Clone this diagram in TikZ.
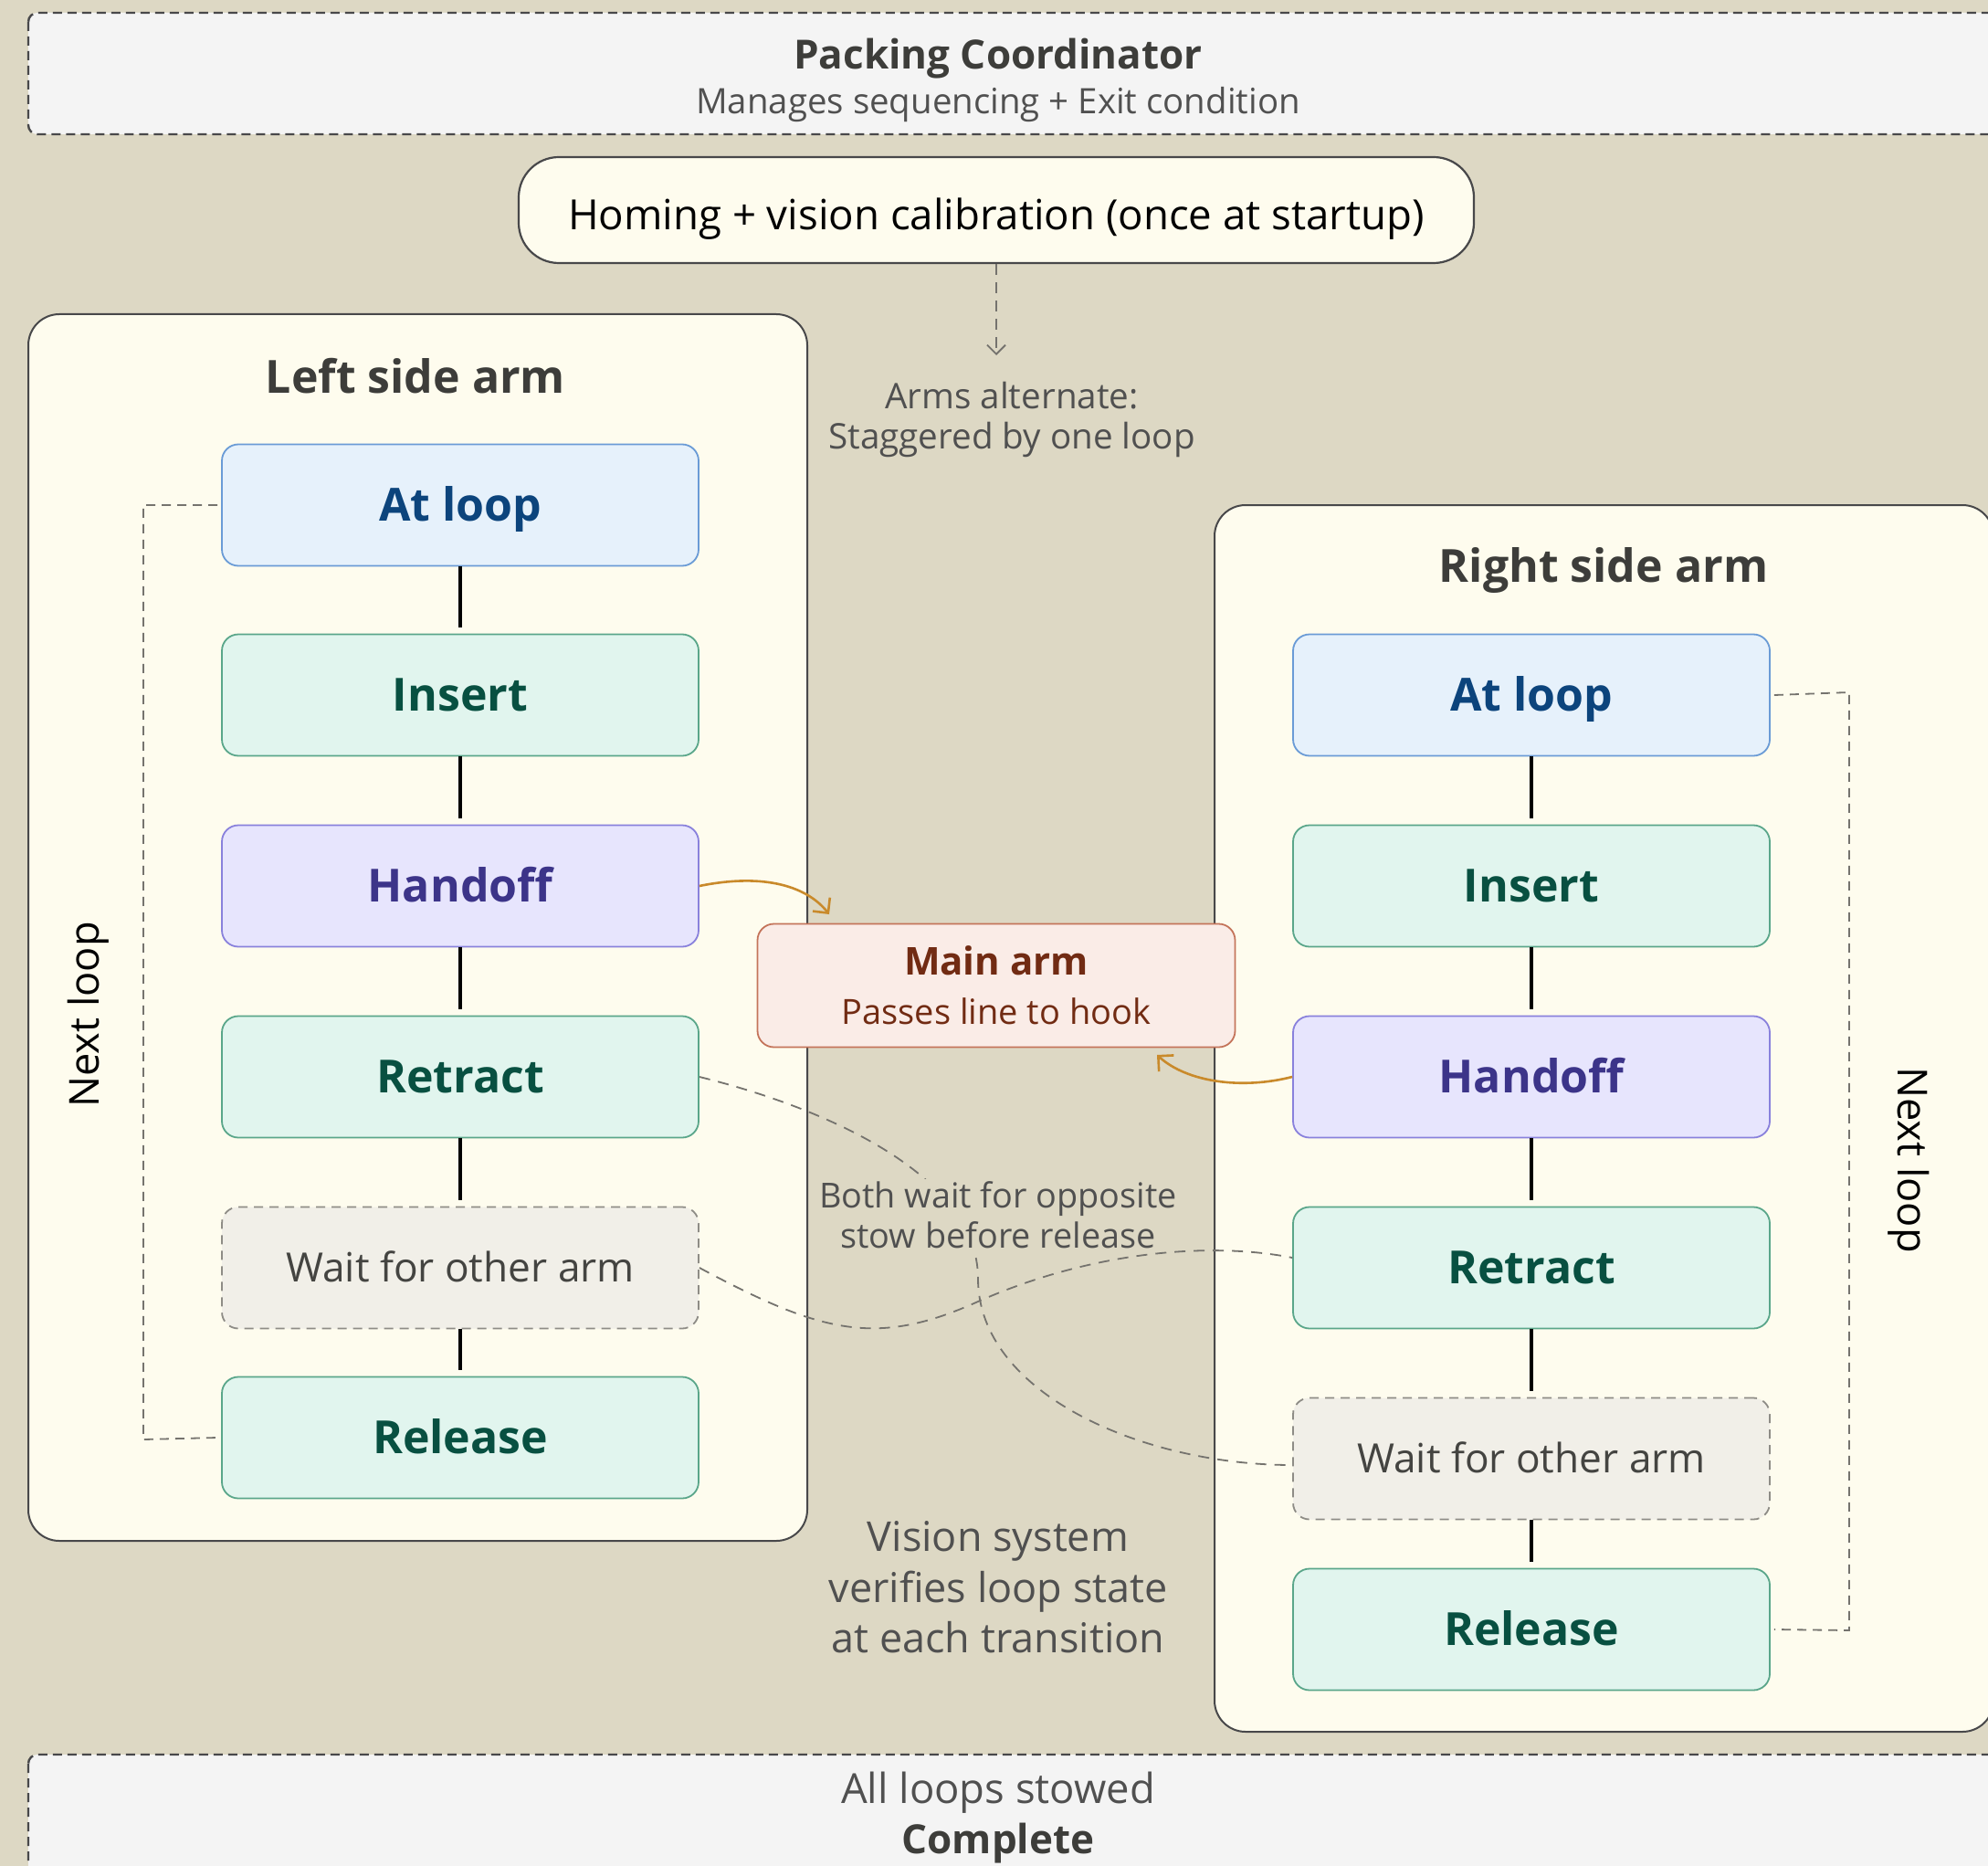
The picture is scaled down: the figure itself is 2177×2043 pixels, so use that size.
\documentclass[tikz,border=0pt]{standalone}
\usepackage{fontspec}
\setmainfont{Open Sans}
\usetikzlibrary{arrows.meta}
\definecolor{bgtan}{HTML}{DDD8C4}
\definecolor{cream}{HTML}{FEFCEE}
\definecolor{paleg}{HTML}{F4F4F4}
\definecolor{darkline}{HTML}{48484A}
\definecolor{titletxt}{HTML}{3D3D3A}
\definecolor{subtxt}{HTML}{505050}
\definecolor{bluefill}{HTML}{E6F1FB}
\definecolor{blueline}{HTML}{6A9BD6}
\definecolor{bluetxt}{HTML}{0C447C}
\definecolor{tealfill}{HTML}{E1F5EE}
\definecolor{tealline}{HTML}{5AA68A}
\definecolor{tealtxt}{HTML}{085041}
\definecolor{purpfill}{HTML}{E7E5FD}
\definecolor{purpline}{HTML}{8981DC}
\definecolor{purptxt}{HTML}{3C3489}
\definecolor{grayfill}{HTML}{F1EFE8}
\definecolor{grayline}{HTML}{8E8C86}
\definecolor{graytxt}{HTML}{444441}
\definecolor{coralfill}{HTML}{FAECE7}
\definecolor{coralline}{HTML}{C4745A}
\definecolor{coraltxt}{HTML}{712B13}
\definecolor{amberc}{HTML}{C98A2B}
\definecolor{dashc}{HTML}{75736E}
\tikzset{
  stepbox/.style={rectangle, rounded corners=9pt, minimum width=261pt, minimum height=66.5pt,
    line width=0.9pt, inner sep=0pt, text height=17.9pt, text depth=0pt,
    font=\fontsize{25}{30}\selectfont\bfseries},
  bluebox/.style={stepbox, fill=bluefill, draw=blueline, text=bluetxt},
  tealbox/.style={stepbox, fill=tealfill, draw=tealline, text=tealtxt},
  purpbox/.style={stepbox, fill=purpfill, draw=purpline, text=purptxt},
  waitbox/.style={stepbox, fill=grayfill, draw=grayline, dash pattern=on 5pt off 3.5pt,
    text=graytxt, text height=15.8pt, font=\fontsize{22.1}{26}\selectfont},
  seqline/.style={line width=2pt, black, shorten >=3.5pt},
  loopline/.style={dashc, line width=0.9pt, dash pattern=on 5pt off 3.5pt},
  waitline/.style={dashc, line width=0.9pt, dash pattern=on 6pt off 4.5pt},
  handarrow/.style={amberc, line width=1.3pt, -{Straight Barb[length=6pt,width=12pt,line width=1.3pt]}},
  container/.style={fill=cream, draw=darkline, line width=1pt, rounded corners=17pt},
  bandbox/.style={fill=paleg, draw=darkline, line width=1.2pt, dash pattern=on 5pt off 3pt, rounded corners=5pt},
  titletext/.style={text=titletxt, font=\fontsize{25}{30}\selectfont\bfseries, inner sep=0pt},
  notetext/.style={text=subtxt, align=center, inner sep=1pt},
}
\begin{document}
\begin{tikzpicture}[x=0.5pt,y=-0.5pt]
\useasboundingbox (0,0) rectangle (2177,2043);
\fill[bgtan] (0,0) rectangle (2177,2043);

% top coordinator band
\draw[bandbox] (31,14) rectangle (2200,147);
\node[text=titletxt, font=\fontsize{22}{26}\selectfont\bfseries] (coordt) at (1093,64) {Packing Coordinator};
\node[text=subtxt, font=\fontsize{19.2}{22}\selectfont] (coords) at (1093,115) {Manages sequencing + Exit condition};

% homing
\node[rectangle, rounded corners=22pt, fill=cream, draw=darkline, line width=1.1pt,
  minimum width=523pt, minimum height=58pt, inner sep=0pt, text=black,
  text height=21.5pt, text depth=0pt,
  font=\fontsize{22.8}{26}\selectfont] (home) at (1091,230) {Homing + vision calibration (once at startup)};
\coordinate (harr) at (1091,389);
\draw[dashc, line width=0.9pt, dash pattern=on 6pt off 4pt,
  -{Straight Barb[length=5pt,width=10pt,line width=0.9pt]}] (home.south) -- (harr);
\node[notetext, font=\fontsize{19.3}{22}\selectfont] (alt) at (1108,459) {Arms alternate:\\Staggered by one loop};

% containers
\draw[container] (31,344) rectangle (884,1687);
\draw[container] (1330,553) rectangle (2183,1896);
\node[titletext] (ltitle) at (455,412) {Left side arm};
\node[titletext] (rtitle) at (1756,625) {Right side arm};

% left arm
\node[bluebox] (lat) at (504,553) {At loop};
\node[tealbox] (lins) at (504,761) {Insert};
\node[purpbox] (lhand) at (504,970) {Handoff};
\node[tealbox] (lret) at (504,1179) {Retract};
\node[waitbox] (lwait) at (504,1388) {Wait for other arm};
\node[tealbox] (lrel) at (504,1574) {Release};
\draw[seqline] (lat) -- (lins);
\draw[seqline] (lins) -- (lhand);
\draw[seqline] (lhand) -- (lret);
\draw[seqline] (lret) -- (lwait);
\draw[seqline] (lwait) -- (lrel);
\draw[loopline] ([xshift=-2pt]lat.west) -- (157,553) -- (157,1576) -- ([xshift=-2pt]lrel.west);
\node[rotate=90, text=black, font=\fontsize{22.6}{26}\selectfont] (lnext) at (97,1111) {Next loop};

% right arm
\node[bluebox] (rat) at (1677,761) {At loop};
\node[tealbox] (rins) at (1677,970) {Insert};
\node[purpbox] (rhand) at (1677,1179) {Handoff};
\node[tealbox] (rret) at (1677,1388) {Retract};
\node[waitbox] (rwait) at (1677,1597) {Wait for other arm};
\node[tealbox] (rrel) at (1677,1784) {Release};
\draw[seqline] (rat) -- (rins);
\draw[seqline] (rins) -- (rhand);
\draw[seqline] (rhand) -- (rret);
\draw[seqline] (rret) -- (rwait);
\draw[seqline] (rwait) -- (rrel);
\draw[loopline] ([xshift=2pt]rat.east) -- (2025,758) -- (2025,1785) -- ([xshift=2pt]rrel.east);
\node[rotate=-90, text=black, font=\fontsize{22.6}{26}\selectfont] (rnext) at (2090,1270) {Next loop};

% main arm
\node[rectangle, rounded corners=9pt, fill=coralfill, draw=coralline, line width=0.9pt,
  minimum width=261.5pt, minimum height=67.5pt, inner sep=0pt] (main) at (1091,1079) {};
\node[text=coraltxt, font=\fontsize{21}{25}\selectfont\bfseries] (maint) at (1091,1052) {Main arm};
\node[text=coraltxt, font=\fontsize{19}{22}\selectfont] (mains) at (1091,1107) {Passes line to hook};

\coordinate (main1) at (908,1001);
\coordinate (main2) at (1267,1155);
\draw[handarrow] (lhand.east) .. controls (840,955) and (885,972) .. (main1);
\draw[handarrow] (rhand.west) .. controls (1360,1193) and (1300,1185) .. (main2);

% wait curves
\draw[waitline] (lret.east) .. controls (900,1212) and (1071,1285) .. (1071,1400)
   .. controls (1071,1525) and (1250,1604) .. ([yshift=-3.5pt]rwait.west);
\draw[waitline] (lwait.east) .. controls (900,1460) and (960,1475) .. (1071,1425)
   .. controls (1200,1368) and (1330,1360) .. ([yshift=5.5pt]rret.west);
\node[notetext, fill=bgtan, font=\fontsize{18.9}{22}\selectfont] (both) at (1093,1330) {Both wait for opposite\\stow before release};

\node[notetext, font=\fontsize{22.5}{27.7}\selectfont] (vision) at (1093,1738) {Vision system\\verifies loop state\\at each transition};

% bottom band
\draw[bandbox] (31,1921) rectangle (2200,2150);
\node[text=subtxt, font=\fontsize{22.7}{26}\selectfont] (allst) at (1093,1963) {All loops stowed};
\node[text=titletxt, font=\fontsize{22}{26}\selectfont\bfseries] (compl) at (1093,2018) {Complete};
\end{tikzpicture}
\end{document}
